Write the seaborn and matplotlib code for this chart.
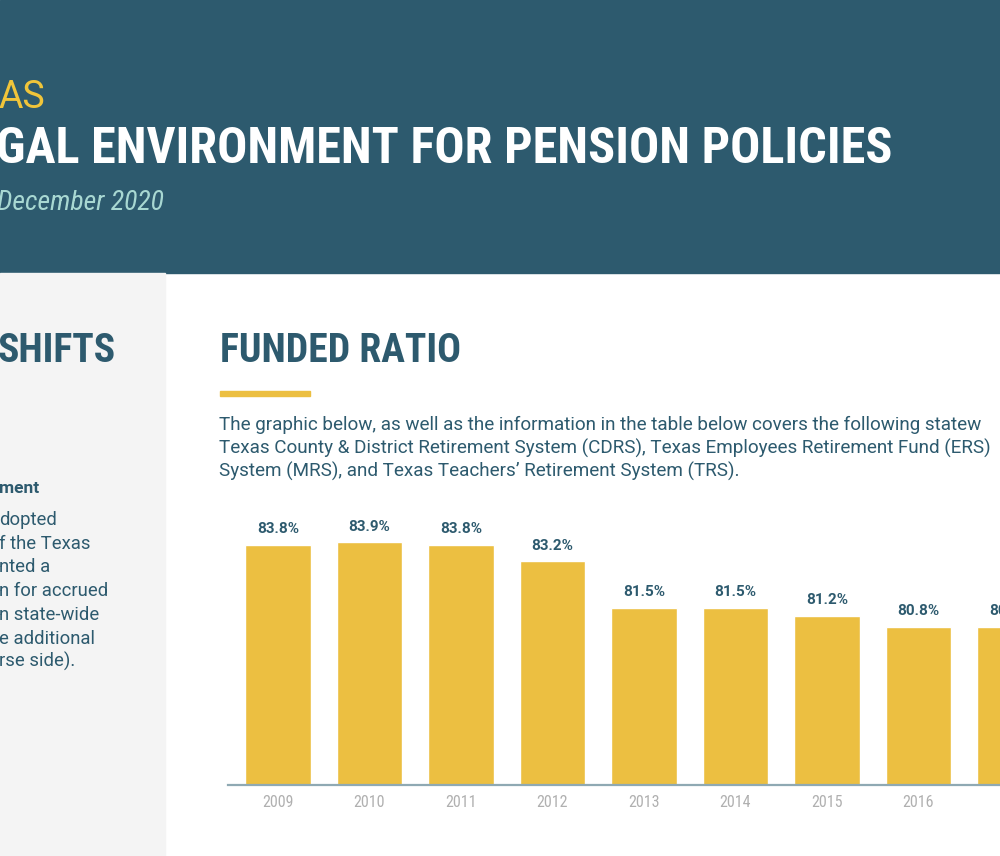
import matplotlib
matplotlib.use("Agg")
import matplotlib.pyplot as plt
from matplotlib.patches import Rectangle
import seaborn as sns

# data
years = ["2009", "2010", "2011", "2012", "2013", "2014", "2015", "2016", "2017"]
funded = [83.8, 83.9, 83.8, 83.2, 81.5, 81.5, 81.2, 80.8, 80.8]
labels = ["83.8%", "83.9%", "83.8%", "83.2%", "81.5%", "81.5%", "81.2%", "80.8%", "80.8%"]

side_lines = ["dopted", "f the Texas", "nted a", "n for accrued",
              "n state-wide", "e additional", "rse side)."]
intro_lines = [
    "The graphic below, as well as the information in the table below covers the following statew",
    "Texas County & District Retirement System (CDRS), Texas Employees Retirement Fund (ERS)",
    "System (MRS), and Texas Teachers\u2019 Retirement System (TRS).",
]

teal = "#2d5a6e"
yellow = "#ecbf41"
W, H = 1000, 856

sns.set_style("white")
plt.rcParams["font.family"] = ["Roboto Condensed", "Roboto", "DejaVu Sans"]
body = ["Roboto", "DejaVu Sans"]


def px(x, y):
    return x / W, 1 - y / H


fig = plt.figure(figsize=(10, 8.56), dpi=100)
fig.patch.set_facecolor("white")

# header band and side panel
fig.add_artist(Rectangle((0, 1 - 273 / H), 1, 273 / H, transform=fig.transFigure,
                         color=teal, zorder=0))
fig.add_artist(Rectangle((0, 0), 165 / W, (H - 273) / H, transform=fig.transFigure,
                         color="#f4f4f4", zorder=0))
# yellow underline
fig.add_artist(Rectangle(px(220, 396), 90 / W, 5 / H, transform=fig.transFigure,
                         color=yellow, zorder=1))

fig.text(*px(-1, 108), "AS", color="#f0c53a", fontsize=27, ha="left", va="baseline",
         family=body)
fig.text(*px(-4, 163), "GAL ENVIRONMENT FOR PENSION POLICIES", color="white",
         fontsize=36.2, fontweight="bold", ha="left", va="baseline")
fig.text(*px(-3, 210), "December 2020", color="#a8d8d2", fontsize=20,
         fontstyle="italic", ha="left", va="baseline")

fig.text(*px(-2, 362), "SHIFTS", color=teal, fontsize=28.5, fontweight="bold",
         ha="left", va="baseline")
fig.text(*px(220, 362), "FUNDED RATIO", color=teal, fontsize=28.5, fontweight="bold",
         ha="left", va="baseline")

for i, line in enumerate(intro_lines):
    fig.text(*px(219, 430 + i * 23.3), line, color=teal, fontsize=13.6,
             ha="left", va="baseline", family=body)

fig.text(*px(-1, 493), "ment", color=teal, fontsize=12.5, fontweight="bold",
         ha="left", va="baseline", family=body)
for i, line in enumerate(side_lines):
    fig.text(*px(-1, 525 + i * 23.7), line, color=teal, fontsize=13.3,
             ha="left", va="baseline", family=body)

# bar chart
ax = fig.add_axes([228 / W, 1 - 785 / H, 1 - 228 / W, 270 / H])
sns.barplot(x=years, y=funded, color=yellow, saturation=1, width=0.72, ax=ax)
ax.set_ylim(75, 75 + 270 / 27.3)
ax.set_xlim(-0.546, 7.891)
ax.set_facecolor("none")

for bar, lab in zip(ax.patches, labels):
    ax.annotate(lab, (bar.get_x() + bar.get_width() / 2, bar.get_height()),
                xytext=(0, 6), textcoords="offset points", ha="center", va="bottom",
                color=teal, fontsize=11, fontweight="bold", annotation_clip=False,
                family=body)

sns.despine(ax=ax, left=True, top=True, right=True)
ax.spines["bottom"].set_color("#8fa9b3")
ax.spines["bottom"].set_linewidth(1.6)
ax.set_yticks([])
ax.set_ylabel("")
ax.set_xlabel("")
ax.tick_params(axis="x", length=0, pad=7, labelsize=11.5, labelcolor="#b0b0b0")

fig.savefig("out.png", dpi=100)
